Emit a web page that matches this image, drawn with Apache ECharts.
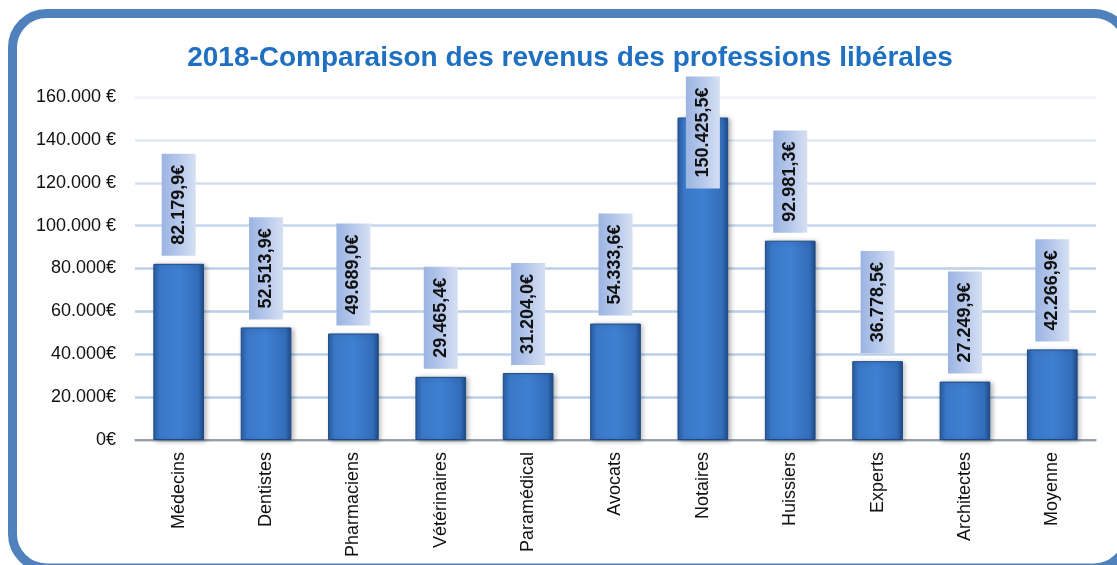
<!DOCTYPE html>
<html>
<head>
    <meta charset="utf-8">
    <title>2018 - Comparaison des revenus des professions libérales</title>
    <script src="https://cdn.jsdelivr.net/npm/echarts@6/dist/echarts.min.js"></script>
    <style>
        html, body { margin: 0; padding: 0; background: #fff; }
        #main { width: 1117px; height: 565px; }
    </style>
</head>
<body>
<div id="main"></div>
<script type="text/javascript">
// données du graphique
var categories = ['Médecins', 'Dentistes', 'Pharmaciens', 'Vétérinaires', 'Paramédical', 'Avocats',
    'Notaires', 'Huissiers', 'Experts', 'Architectes', 'Moyenne'];
var revenus = [82179.9, 52513.9, 49689.0, 29465.4, 31204.0, 54333.6, 150425.5, 92981.3, 36778.5, 27249.9, 42266.9];
var yTickLabels = ['0€', '20.000€', '40.000€', '60.000€', '80.000€', '100.000 €', '120.000 €', '140.000 €', '160.000 €'];

var FONT = 'Arial, "Liberation Sans", sans-serif';

// 82179.9 -> "82.179,9€"
function formatEuro(v) {
    var parts = v.toFixed(1).split('.');
    var ent = parts[0].replace(/\B(?=(\d{3})+(?!\d))/g, '.');
    return ent + ',' + parts[1] + '€';
}

var labelBg = new echarts.graphic.LinearGradient(0, 0, 0, 1, [
    {offset: 0, color: '#9cb4e2'},
    {offset: 0.5, color: '#b6c8eb'},
    {offset: 1, color: '#d6e0f3'}
]);

var barColor = new echarts.graphic.LinearGradient(0, 0, 1, 0, [
    {offset: 0, color: '#2a5ea6'},
    {offset: 0.12, color: '#3a78c8'},
    {offset: 0.5, color: '#3f80d2'},
    {offset: 0.88, color: '#336dba'},
    {offset: 1, color: '#1e4b88'}
]);

var seriesData = [];
for (var i = 0; i < revenus.length; i++) {
    var item = {value: revenus[i]};
    // étiquette des notaires ramenée dans la zone de tracé (sur la barre)
    if (categories[i] === 'Notaires') {
        item.label = {position: ['50%', 71]};
    }
    seriesData.push(item);
}

var myChart = echarts.init(document.getElementById('main'));

myChart.setOption({
    animation: false,
    title: {
        text: '2018-Comparaison des revenus des professions libérales',
        left: 565,
        textAlign: 'center',
        top: 39,
        textStyle: {
            fontFamily: FONT,
            fontSize: 28,
            fontWeight: 'bold',
            color: '#1f70c1'
        }
    },
    graphic: [{
        type: 'rect',
        shape: {x: 12.5, y: 13.5, width: 1115.5, height: 554.5, r: 34},
        style: {fill: null, stroke: '#4f81bd', lineWidth: 9},
        z: 100
    }],
    grid: {
        left: 135,
        right: 21,
        top: 97,
        bottom: 125
    },
    xAxis: {
        type: 'category',
        data: categories,
        axisTick: {show: false},
        axisLine: {lineStyle: {color: '#8c8c8c', width: 1.5}},
        axisLabel: {
            rotate: 90,
            margin: 12,
            fontFamily: FONT,
            fontSize: 18,
            color: '#111'
        }
    },
    yAxis: {
        type: 'value',
        min: 0,
        max: 160000,
        interval: 20000,
        axisLine: {show: false},
        axisTick: {show: false},
        axisLabel: {
            margin: 19,
            fontFamily: FONT,
            fontSize: 18,
            color: '#111',
            formatter: function (v) {
                return yTickLabels[Math.round(v / 20000)];
            }
        },
        splitLine: {
            lineStyle: {
                width: 2.5,
                color: ['#bccfe9', '#bccfe9', '#bccfe9', '#bccfe9', '#bccfe9', '#c6d6ec', '#d3dfef', '#e2e9f4', '#eef2f8']
            }
        }
    },
    series: [{
        type: 'bar',
        data: seriesData,
        barWidth: '58%',
        itemStyle: {
            color: barColor,
            borderColor: '#1d4a85',
            borderWidth: 1,
            shadowBlur: 5,
            shadowColor: 'rgba(0,0,0,0.3)',
            shadowOffsetX: 2,
            shadowOffsetY: 1
        },
        label: {
            show: true,
            position: 'top',
            rotate: 90,
            align: 'left',
            verticalAlign: 'middle',
            distance: 8,
            padding: [8, 11, 8, 11],
            backgroundColor: labelBg,
            fontFamily: FONT,
            fontSize: 18,
            fontWeight: 'bold',
            color: '#111',
            formatter: function (p) {
                return formatEuro(p.value);
            }
        }
    }]
});
</script>
</body>
</html>
